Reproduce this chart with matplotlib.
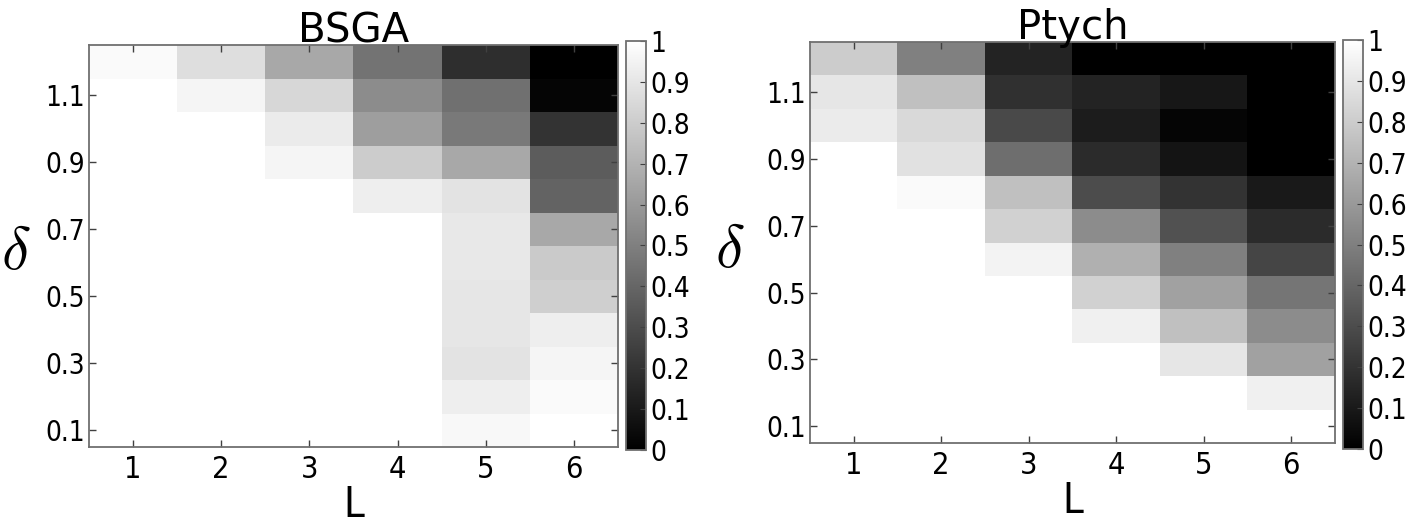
import matplotlib
import numpy as np

matplotlib.use("Agg")
import matplotlib.pyplot as plt

L_VALUES = [1, 2, 3, 4, 5, 6]
DELTAS = [0.1, 0.2, 0.3, 0.4, 0.5, 0.6, 0.7, 0.8, 0.9, 1.0, 1.1, 1.2]
YTICKS = [0.1, 0.3, 0.5, 0.7, 0.9, 1.1]
CBAR_TICKS = [0, 0.1, 0.2, 0.3, 0.4, 0.5, 0.6, 0.7, 0.8, 0.9, 1]
CBAR_LABELS = ["0", "0.1", "0.2", "0.3", "0.4", "0.5", "0.6", "0.7", "0.8", "0.9", "1"]

# columns are L = 1..6, each listed from delta = 0.1 up to delta = 1.2
BSGA_L1 = [1, 1, 1, 1, 1, 1, 1, 1, 1, 1, 1, 0.98]
BSGA_L2 = [1, 1, 1, 1, 1, 1, 1, 1, 1, 1, 0.96, 0.87]
BSGA_L3 = [1, 1, 1, 1, 1, 1, 1, 1, 0.96, 0.92, 0.84, 0.66]
BSGA_L4 = [1, 1, 1, 1, 1, 1, 1, 0.93, 0.80, 0.62, 0.55, 0.45]
BSGA_L5 = [0.97, 0.93, 0.89, 0.90, 0.90, 0.91, 0.91, 0.89, 0.66, 0.48, 0.44, 0.18]
BSGA_L6 = [1.0, 0.98, 0.96, 0.93, 0.81, 0.79, 0.66, 0.39, 0.36, 0.20, 0.02, 0.0]

PTYCH_L1 = [1, 1, 1, 1, 1, 1, 1, 1, 1, 0.92, 0.90, 0.80]
PTYCH_L2 = [1, 1, 1, 1, 1, 1, 1, 0.98, 0.88, 0.85, 0.75, 0.50]
PTYCH_L3 = [1, 1, 1, 1, 1, 0.95, 0.82, 0.75, 0.43, 0.29, 0.19, 0.14]
PTYCH_L4 = [1, 1, 1, 0.94, 0.82, 0.69, 0.55, 0.30, 0.17, 0.11, 0.14, 0.0]
PTYCH_L5 = [1, 1, 0.90, 0.75, 0.63, 0.50, 0.32, 0.20, 0.08, 0.02, 0.09, 0.0]
PTYCH_L6 = [1, 0.94, 0.63, 0.55, 0.46, 0.27, 0.17, 0.10, 0.0, 0.0, 0.0, 0.0]

bsga = np.array([BSGA_L1, BSGA_L2, BSGA_L3, BSGA_L4, BSGA_L5, BSGA_L6]).T
ptych = np.array([PTYCH_L1, PTYCH_L2, PTYCH_L3, PTYCH_L4, PTYCH_L5, PTYCH_L6]).T

plt.rcParams["font.family"] = ["DejaVu Sans"]
plt.rcParams["font.stretch"] = "condensed"
plt.rcParams["mathtext.fontset"] = "cm"

fig = plt.figure(figsize=(14.14, 5.26), dpi=100)

# pixel boxes (x0, y0, x1, y1) measured on the reference, plus delta label spot
panels = [
    ("BSGA", bsga, [89, 45, 618, 447], [626, 41, 646, 450], (-0.138, 0.485)),
    ("Ptych", ptych, [810, 42, 1335, 443], [1343, 40, 1363, 449], (-0.152, 0.48)),
]

W, H = 1414, 526


def rect(box):
    x0, y0, x1, y1 = box
    return [x0 / W, 1 - y1 / H, (x1 - x0) / W, (y1 - y0) / H]


EDGE = "#707070"

for title, data, ax_box, cb_box, dpos in panels:
    ax = fig.add_axes(rect(ax_box))
    dl = DELTAS[1] - DELTAS[0]
    im = ax.imshow(
        data,
        cmap="gray",
        vmin=0,
        vmax=1,
        origin="lower",
        aspect="auto",
        interpolation="nearest",
        extent=[L_VALUES[0] - 0.5, L_VALUES[-1] + 0.5,
                DELTAS[0] - dl / 2, DELTAS[-1] + dl / 2],
    )
    ax.set_xticks(L_VALUES)
    ax.set_yticks(YTICKS)
    ax.set_xticklabels([str(v) for v in L_VALUES], fontsize=22)
    ax.set_yticklabels([f"{v:.1f}" for v in YTICKS], fontsize=20)
    ax.tick_params(direction="in", top=True, right=True, length=5,
                   width=1, color="#404040", pad=6)
    ax.tick_params(axis="y", pad=3)
    for s in ax.spines.values():
        s.set_color(EDGE)
        s.set_linewidth(1.3)
    ax.set_title(title, fontsize=29, pad=2, fontstretch="normal")
    ax.set_xlabel("L", fontsize=30, labelpad=0)
    ax.set_ylabel(r"$\delta$", fontsize=44, rotation=0, va="center", ha="center")
    ax.yaxis.set_label_coords(*dpos)

    cax = fig.add_axes(rect(cb_box))
    cb = fig.colorbar(im, cax=cax, ticks=CBAR_TICKS)
    cb.ax.set_yticklabels(CBAR_LABELS, fontsize=20)
    cb.ax.tick_params(direction="in", length=4, color="#404040", pad=3)
    cb.outline.set_edgecolor(EDGE)
    cb.outline.set_linewidth(1.3)

fig.savefig("out.png", dpi=100)
